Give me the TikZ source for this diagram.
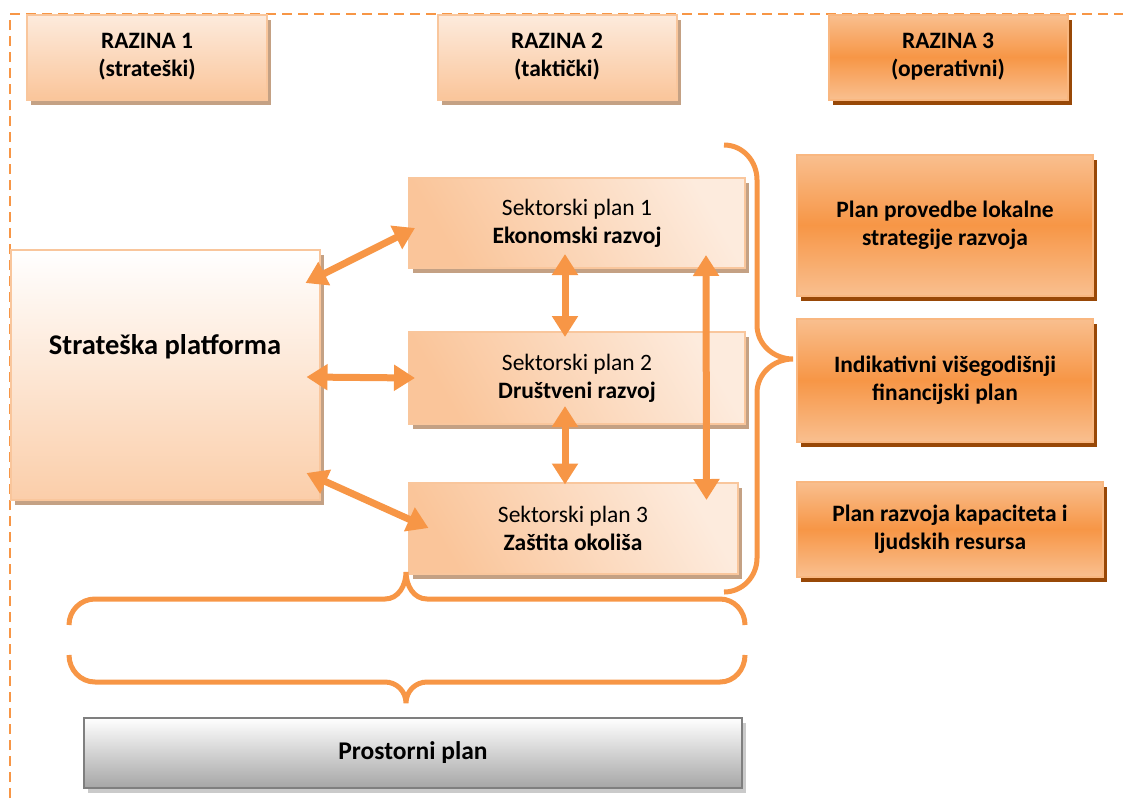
\documentclass[tikz,border=0pt]{standalone}
\usepackage{fontspec}
\setmainfont{Carlito}
\usetikzlibrary{arrows.meta,shadows}
\definecolor{orangeline}{HTML}{F79646}
\definecolor{peachlight}{HTML}{FDEBDD}
\definecolor{peachdark}{HTML}{FAC59A}
\definecolor{peachedge}{HTML}{F9C69C}
\definecolor{orangelight}{HTML}{F9BF8F}
\definecolor{tanshadow}{HTML}{C4A184}
\definecolor{brownshadow}{HTML}{984807}
\definecolor{greyedge}{HTML}{7F7F7F}
\definecolor{greyshadow}{HTML}{CACACA}
\begin{document}
\begin{tikzpicture}[x=1pt,y=-1pt,
    every node/.style={font=\fontsize{23.5}{28}\selectfont,align=center,inner sep=0pt},
    lightbox/.style={draw=peachedge,line width=2pt,top color=peachlight,bottom color=peachdark,
      drop shadow={shadow xshift=4pt,shadow yshift=-5pt,fill=tanshadow,opacity=1}},
    platbox/.style={lightbox,top color=white,bottom color=peachdark!85},
    sektorbox/.style={lightbox,left color=peachdark,right color=peachlight,shading angle=120},
    orangebox/.style={draw=orangelight!80!orangeline,line width=2pt,top color=orangelight,
      bottom color=orangelight,middle color=orangeline,font=\fontsize{23.5}{28}\selectfont\bfseries,
      drop shadow={shadow xshift=4pt,shadow yshift=-5pt,fill=brownshadow,opacity=1}},
    greybox/.style={draw=greyedge,line width=2pt,top color=white,bottom color=black!35,
      drop shadow={shadow xshift=4pt,shadow yshift=-5pt,fill=greyshadow,opacity=1}},
    dblarrow/.style={draw=orangeline,line width=7pt,
      {Triangle[width=25pt,length=21pt]}-{Triangle[width=25pt,length=21pt]}},
    curly/.style={draw=orangeline,line width=5pt}]
  \useasboundingbox (0,0) rectangle (1123,798);
  % frame
  \draw[orangeline,line width=2.5pt,dash pattern=on 10pt off 6pt] (10,798) -- (10,14) -- (1123,14);
  % levels
  \draw
    (147,57) node[lightbox,minimum width=240pt,minimum height=85pt,font=\fontsize{23.5}{28}\selectfont\bfseries] (raz1) {RAZINA 1\\(strateški)}
    (557,57) node[lightbox,minimum width=239pt,minimum height=85pt,font=\fontsize{23.5}{28}\selectfont\bfseries] (raz2) {RAZINA 2\\(taktički)}
    (948,57) node[orangebox,minimum width=239pt,minimum height=85pt] (raz3) {RAZINA 3\\(operativni)};
  % plans
  \draw
    (165,375) node[platbox,minimum width=309pt,minimum height=250pt,
      label={[yshift=28pt,font=\fontsize{28.5}{32}\selectfont\bfseries]center:Strateška platforma}] (platf) {}
    (577,223) node[sektorbox,minimum width=336pt,minimum height=90pt] (sp1) {Sektorski plan 1\\\textbf{Ekonomski razvoj}}
    (577,378) node[sektorbox,minimum width=336pt,minimum height=92pt] (sp2) {Sektorski plan 2\\\textbf{Društveni razvoj}}
    (573,528) node[sektorbox,minimum width=329pt,minimum height=91pt] (sp3) {Sektorski plan 3\\\textbf{Zaštita okoliša}}
    (945,225) node[orangebox,minimum width=296pt,minimum height=141pt] (prov) {Plan provedbe lokalne\\strategije razvoja}
    (945,380) node[orangebox,minimum width=296pt,minimum height=123pt] (fin) {Indikativni višegodišnji\\financijski plan}
    (950,529) node[orangebox,minimum width=306pt,minimum height=95pt] (kap) {Plan razvoja kapaciteta i\\ljudskih resursa}
    (413,753) node[greybox,minimum width=658pt,minimum height=70pt,font=\fontsize{25.5}{30}\selectfont\bfseries] (prost) {Prostorni plan};
  \begin{scope}[dblarrow]
    \draw ([xshift=-15pt,yshift=-34pt]platf.north east) to ([xshift=7pt,yshift=-5pt]sp1.west);
    \draw ([xshift=-14pt,yshift=-2pt]platf.east) to ([xshift=7pt]sp2.west);
    \draw ([xshift=-14pt,yshift=28pt]platf.south east) to ([xshift=21pt]sp3.west);
    \draw ([xshift=-12pt,yshift=15pt]sp1.south) to ([xshift=-12pt,yshift=-6pt]sp2.north);
    \draw ([xshift=-12pt,yshift=19pt]sp2.south) to ([xshift=-8pt,yshift=-3pt]sp3.north);
    \draw ([xshift=-40pt,yshift=14pt]sp1.south east) to ([xshift=-32pt,yshift=28pt]sp3.east);
  \end{scope}
  % braces
  \draw[curly] (724,145) to[out=0,in=90] (757,180) -- (757,325) to[out=-90,in=180] (793,359)
    to[out=180,in=90] (757,393) -- (757,558) to[out=-90,in=0] (724,592);
  \draw[curly] (69,625) to[out=90,in=180] (95,599) -- (385,599) to[out=0,in=-90] (406,572)
    to[out=-90,in=180] (427,599) -- (720,599) to[out=0,in=90] (745,625);
  \draw[curly] (69,655) to[out=-90,in=180] (95,682) -- (385,682) to[out=0,in=90] (406,703)
    to[out=90,in=180] (427,682) -- (720,682) to[out=0,in=-90] (745,655);
\end{tikzpicture}
\end{document}
